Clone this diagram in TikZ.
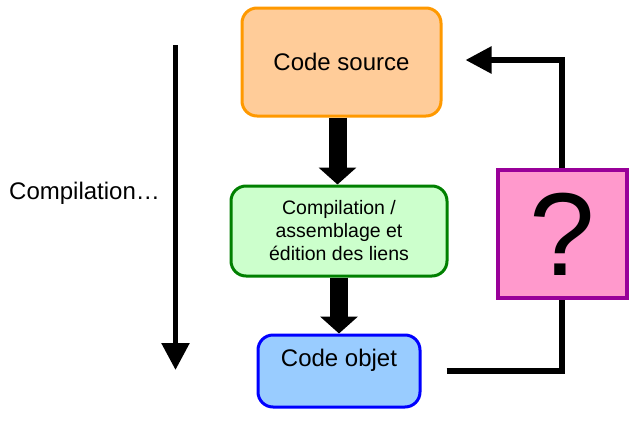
\documentclass[tikz,border=0pt]{standalone}
\usepackage{fontspec}
\setmainfont{Liberation Sans}
\usetikzlibrary{arrows.meta}
\definecolor{srcborder}{HTML}{FF9900}
\definecolor{srcfill}{HTML}{FFCC99}
\definecolor{cmpborder}{HTML}{008000}
\definecolor{cmpfill}{HTML}{CCFFCC}
\definecolor{objborder}{HTML}{0000FF}
\definecolor{objfill}{HTML}{99CCFF}
\definecolor{qborder}{HTML}{990099}
\definecolor{qfill}{HTML}{FF99CC}
\tikzset{
  box/.style={draw, rounded corners=15pt, line width=3pt, inner sep=0pt, align=center},
  bigarrow/.style={line width=18pt, -{Triangle[width=37pt,length=17pt]}},
  conn/.style={line width=5.5pt},
  connarrow/.style={line width=5.5pt, -{Triangle[width=26pt,length=26pt]}},
}
\begin{document}
\begin{tikzpicture}[x=1pt,y=-1pt]
\useasboundingbox (0,0) rectangle (638,421);
\node[box, draw=srcborder, fill=srcfill, minimum width=199pt, minimum height=108pt,
  font=\fontsize{24}{28}\selectfont] (src) at (341.5,62) {Code source};
\node[box, draw=cmpborder, fill=cmpfill, minimum width=216pt, minimum height=90pt,
  font=\fontsize{19.5}{23}\selectfont] (cmp) at (339,231) {Compilation /\\assemblage et\\édition des liens};
\node[box, draw=objborder, fill=objfill, minimum width=162pt, minimum height=72pt,
  label={[yshift=11pt, font=\fontsize{24}{28}\selectfont]center:Code objet}] (obj) at (339,371) {};
\node[draw=qborder, fill=qfill, line width=4pt, minimum width=129pt, minimum height=128pt,
  inner sep=0pt, font=\fontsize{118}{130}\selectfont] (q) at (562,234) {?};
\node[font=\fontsize{24}{28}\selectfont, anchor=west, inner sep=0pt] (lbl) at (9,193) {Compilation…};
\coordinate (ltop) at (175.5,45);
\coordinate (lbot) at (175.5,370);
\draw[line width=5.5pt, -{Triangle[width=27pt,length=27pt]}] (ltop) -- (lbot);
\draw[bigarrow] ([xshift=-1.5pt]cmp.north |- src.south) -- ([xshift=-1.5pt]cmp.north);
\draw[bigarrow] (cmp.south) -- (obj.north);
\draw[conn] ([xshift=25pt]obj.east) -| (q.south);
\draw[connarrow] (q.north) |- ([xshift=23pt,yshift=2pt]src.east);
\end{tikzpicture}
\end{document}
